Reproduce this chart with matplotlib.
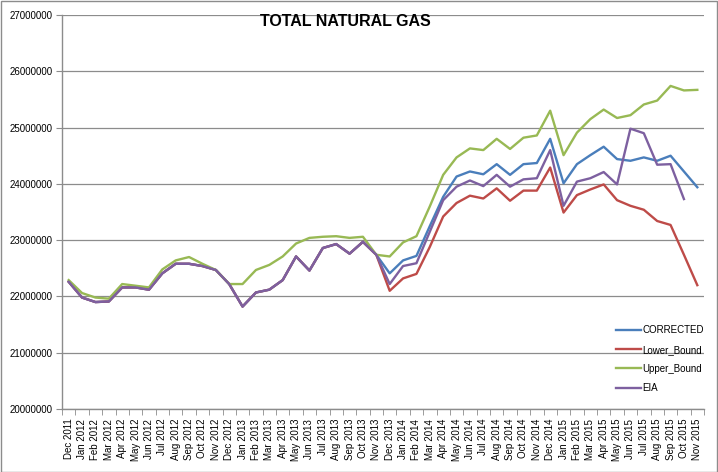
import matplotlib
matplotlib.use("Agg")
import matplotlib.pyplot as plt
from matplotlib.patches import Rectangle
from matplotlib.ticker import FuncFormatter, MultipleLocator

plt.rcParams['font.family'] = ['Liberation Sans', 'DejaVu Sans']

months = ["Dec 2011"]
for yr in [2012, 2013, 2014, 2015]:
    for m in ["Jan", "Feb", "Mar", "Apr", "May", "Jun", "Jul", "Aug", "Sep", "Oct", "Nov", "Dec"]:
        months.append(m + " " + str(yr))
months = months[:48]

eia = [22.26, 21.98, 21.90, 21.91, 22.16, 22.16, 22.12, 22.41, 22.58, 22.58,
       22.54, 22.47, 22.22, 21.82, 22.07, 22.12, 22.29, 22.71, 22.46, 22.86,
       22.93, 22.76, 22.97, 22.74, 22.22, 22.54, 22.59, 23.15, 23.71, 23.95,
       24.06, 23.96, 24.16, 23.95, 24.08, 24.10, 24.60, 23.61, 24.04, 24.10,
       24.21, 23.99, 24.98, 24.90, 24.34, 24.35, 23.73]
corrected = eia[:24] + [22.41, 22.64, 22.72, 23.25, 23.77, 24.13, 24.22, 24.17,
                         24.35, 24.16, 24.35, 24.37, 24.80, 24.01, 24.35, 24.51,
                         24.66, 24.44, 24.41, 24.47, 24.41, 24.50, 24.22, 23.94]
lower = eia[:24] + [22.10, 22.32, 22.40, 22.88, 23.42, 23.66, 23.79, 23.74,
                     23.92, 23.70, 23.88, 23.88, 24.29, 23.49, 23.80, 23.90,
                     23.99, 23.71, 23.61, 23.54, 23.34, 23.27, 22.74, 22.20]
upper = [22.29, 22.06, 21.98, 21.96, 22.22, 22.19, 22.16, 22.48, 22.64, 22.70,
         22.58, 22.47, 22.22, 22.22, 22.47, 22.56, 22.71, 22.94, 23.04, 23.06,
         23.07, 23.04, 23.06, 22.74, 22.71, 22.96, 23.07, 23.60, 24.16, 24.47,
         24.63, 24.60, 24.80, 24.62, 24.82, 24.86, 25.30, 24.51, 24.91, 25.15,
         25.32, 25.17, 25.22, 25.41, 25.48, 25.74, 25.66, 25.67]

fig = plt.figure(figsize=(7.18, 4.72), dpi=100)
ax = fig.add_axes([62 / 718, 1 - 409 / 472, 642 / 718, 394 / 472])

series = [("CORRECTED", corrected, "#4A7EBB"),
          ("Lower_Bound", lower, "#BE4B48"),
          ("Upper_Bound", upper, "#98B954"),
          ("EIA", eia, "#7D60A0")]
for name, vals, col in series:
    ax.plot(range(len(vals)), [v * 1e6 for v in vals], color=col, lw=1.7,
            label=name, solid_joinstyle='round')

ax.set_xlim(-0.5, 47.5)
ax.set_ylim(20e6, 27e6)
ax.yaxis.set_major_locator(MultipleLocator(1e6))
ax.yaxis.set_major_formatter(FuncFormatter(lambda v, p: "%d" % v))
ax.grid(axis='y', color='#8c8c8c', lw=0.9)
ax.set_axisbelow(True)

ax.set_xticks(range(48))
ax.set_xticklabels(months, rotation=90, fontsize=7)
ax.set_xticks([i - 0.5 for i in range(49)], minor=True)
ax.tick_params(axis='x', which='major', length=0, pad=7)
ax.tick_params(axis='x', which='minor', length=4, color='#8c8c8c', direction='out')
ax.tick_params(axis='y', length=4, color='#8c8c8c', labelsize=7, pad=3)

for s in ['top', 'right']:
    ax.spines[s].set_visible(False)
for s in ['left', 'bottom']:
    ax.spines[s].set_color('#8c8c8c')
    ax.spines[s].set_linewidth(1.0)

fig.text(345 / 718, 1 - 21 / 472, "TOTAL NATURAL GAS", ha='center', va='center',
         fontsize=11.5, fontweight='bold')

ax.legend(loc='lower left', bbox_to_anchor=(612 / 718, 1 - 397 / 472),
          bbox_transform=fig.transFigure, frameon=False, fontsize=7,
          handlelength=2.6, handletextpad=0.1, labelspacing=0.95,
          borderaxespad=0)

fig.patches.append(Rectangle((0.001, 0.001), 0.997, 0.997, transform=fig.transFigure,
                             fill=False, edgecolor='#8c8c8c', lw=1.0))

fig.savefig("out.png", dpi=100)
